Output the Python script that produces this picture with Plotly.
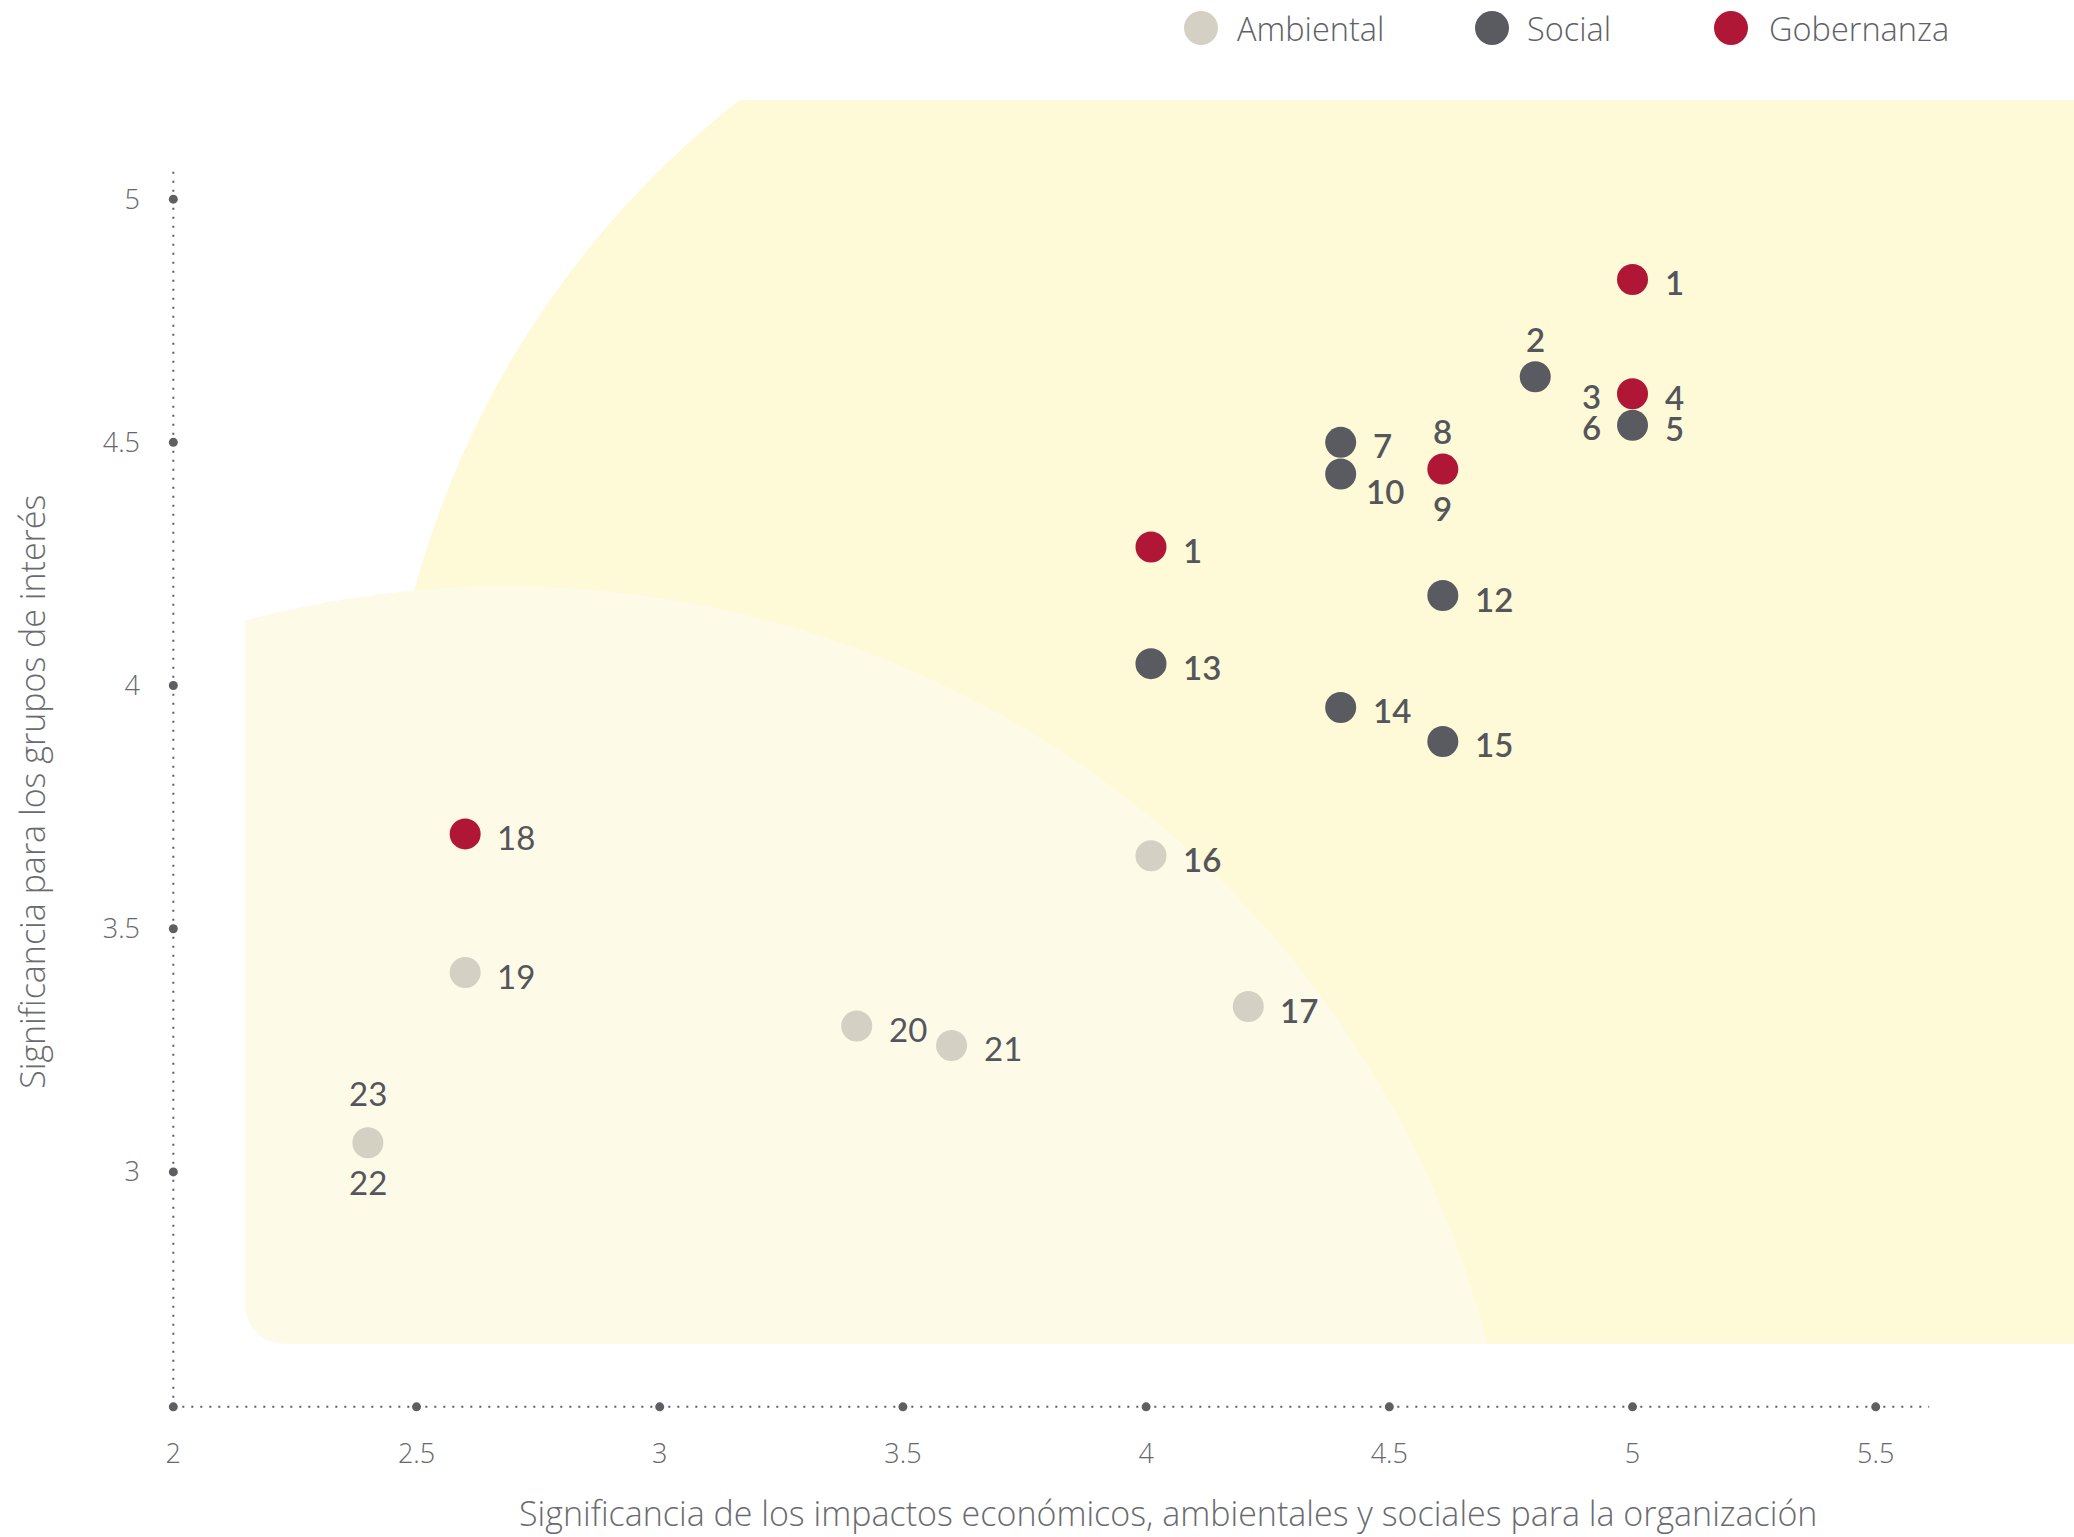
import numpy as np
import plotly.graph_objects as go

# ---------------- data ----------------
categories = ["Ambiental", "Social", "Gobernanza"]

amb_labels = ["16", "17", "19", "20", "21", "22"]
amb_x = [4.01, 4.21, 2.6, 3.405, 3.6, 2.4]
amb_y = [3.65, 3.34, 3.41, 3.30, 3.26, 3.06]

soc_labels = ["2", "5", "7", "10", "12", "13", "14", "15"]
soc_x = [4.8, 5.0, 4.4, 4.4, 4.61, 4.01, 4.4, 4.61]
soc_y = [4.635, 4.535, 4.50, 4.435, 4.185, 4.045, 3.955, 3.885]

gob_labels = ["1", "4", "8", "1", "18"]
gob_x = [5.0, 5.0, 4.61, 4.01, 2.6]
gob_y = [4.835, 4.60, 4.445, 4.285, 3.695]

# second labels written next to an already plotted point: (category, point index, text)
extra_labels = [("Gobernanza", 1, "3"), ("Social", 1, "6"),
                ("Gobernanza", 2, "9"), ("Ambiental", 5, "23")]

x_ticks = [2, 2.5, 3, 3.5, 4, 4.5, 5, 5.5]
y_ticks = [3, 3.5, 4, 4.5, 5]
x_title = "Significancia de los impactos económicos, ambientales y sociales para la organización"
y_title = "Significancia para los grupos de interés"

# ---------------- style ----------------
COLORS = {"Ambiental": "#D4D0C4", "Social": "#5A5B61", "Gobernanza": "#B01736"}
TEXT = "#54565B"
AXIS = "#5E5F63"
LABEL_FONT = "Lato"
UI_FONT = "Open Sans"
label_pos = {
    "Ambiental": ["right", "right", "right", "right", "right", "below"],
    "Social": ["above", "right", "right", "rightlow", "right", "right", "right", "right"],
    "Gobernanza": ["right", "right", "above", "right", "right"],
}
extra_pos = ["left", "left", "below", "above_far"]
OFFSETS = {"right": (30, -3, "left"), "rightlow": (23, -17, "left"),
           "above": (0, 38, "center"), "above_far": (0, 50, "center"),
           "below": (0, -39, "center"), "left": (-30, -2, "right")}

W, H = 2074, 1537
ML, MR, MT, MB = 149.0, 0.0, 100.0, 116.7
PXU_X, PXU_Y = 486.4, 486.5
X_RANGE = [1.95, 1.95 + (W - ML - MR) / PXU_X]
Y_RANGE = [2.49, 2.49 + (H - MT - MB) / PXU_Y]
AXIS_Y = 2.517          # where the horizontal axis crosses
X_AXIS_END = 5.61
Y_AXIS_END = 5.06

series = {
    "Ambiental": (amb_x, amb_y, amb_labels),
    "Social": (soc_x, soc_y, soc_labels),
    "Gobernanza": (gob_x, gob_y, gob_labels),
}

fig = go.Figure()

# ---------------- background zones ----------------
def path_from(pts):
    return "M " + " L ".join(f"{x:.5f},{y:.5f}" for x, y in pts) + " Z"

# big zone (large rounded corner)
bc = (4.345, 3.695); br = 1.916
top, bottom, right = 5.2035, 2.647, 6.5
a0 = np.arctan2(top - bc[1], -np.sqrt(br**2 - (top - bc[1])**2))
a1 = np.arctan2(bottom - bc[1], -np.sqrt(br**2 - (bottom - bc[1])**2)) + 2 * np.pi
ang = np.linspace(a0, a1, 200)
big = [(bc[0] + br * np.cos(t), bc[1] + br * np.sin(t)) for t in ang]
big += [(right, bottom), (right, top)]
fig.add_shape(type="path", path=path_from(big), xref="x", yref="y",
              fillcolor="#FEF9D6", line=dict(width=0), layer="below")

# pale zone
pc = (2.685, 2.119); pr = 2.085
left = 2.148; cr = 0.078
b0 = np.arctan2(np.sqrt(pr**2 - (left - pc[0])**2), left - pc[0])
b1 = np.arctan2(bottom - pc[1], np.sqrt(pr**2 - (bottom - pc[1])**2))
ang2 = np.linspace(b0, b1, 200)
pale = [(left, bottom + cr)]
pale += [(pc[0] + pr * np.cos(t), pc[1] + pr * np.sin(t)) for t in ang2]
corner = np.linspace(-np.pi / 2, -np.pi, 20)
pale += [(left + cr + cr * np.cos(t), bottom + cr + cr * np.sin(t)) for t in corner]
fig.add_shape(type="path", path=path_from(pale), xref="x", yref="y",
              fillcolor="#FDFAE8", line=dict(width=0), layer="below")

# ---------------- dotted axes ----------------
fig.add_shape(type="line", x0=x_ticks[0], x1=X_AXIS_END, y0=AXIS_Y, y1=AXIS_Y,
              xref="x", yref="y", line=dict(color=AXIS, width=2, dash="2px,7px"))
fig.add_shape(type="line", x0=x_ticks[0], x1=x_ticks[0], y0=AXIS_Y, y1=Y_AXIS_END,
              xref="x", yref="y", line=dict(color=AXIS, width=2, dash="2px,7px"))

fig.add_trace(go.Scatter(
    x=x_ticks + [x_ticks[0]] * len(y_ticks),
    y=[AXIS_Y] * len(x_ticks) + y_ticks,
    mode="markers", marker=dict(size=9, color=AXIS),
    cliponaxis=False, hoverinfo="skip", showlegend=False))

# ---------------- points ----------------
for cat in categories:
    xs, ys, labs = series[cat]
    fig.add_trace(go.Scatter(
        x=xs, y=ys, mode="markers", name=cat, text=labs,
        marker=dict(size=31, color=COLORS[cat], line=dict(width=0)),
        cliponaxis=False, showlegend=False))

def add_label(x, y, text, pos):
    dx, dy, xa = OFFSETS[pos]
    fig.add_annotation(x=x, y=y, xref="x", yref="y", text=text, showarrow=False,
                       xshift=dx, yshift=dy, xanchor=xa, yanchor="middle",
                       font=dict(family=LABEL_FONT, size=33, color=TEXT,
                                 weight=600 if x >= 4 else 400))

for cat in categories:
    xs, ys, labs = series[cat]
    for x, y, t, p in zip(xs, ys, labs, label_pos[cat]):
        add_label(x, y, t, p)
for (cat, i, t), p in zip(extra_labels, extra_pos):
    xs, ys, _ = series[cat]
    add_label(xs[i], ys[i], t, p)

# ---------------- legend (drawn) ----------------
PW, PH = W - ML - MR, H - MT - MB
def px_x(px):
    return (px - ML) / PW
def px_y(py):
    return (H - MB - py) / PH

leg_marker_px = [1201, 1492, 1731]
leg_text_px = [1235, 1525, 1767]
leg_y_px = 28
for cat, mx, tx in zip(categories, leg_marker_px, leg_text_px):
    fig.add_shape(type="circle", xref="paper", yref="paper",
                  xsizemode="pixel", ysizemode="pixel",
                  xanchor=px_x(mx), yanchor=px_y(leg_y_px),
                  x0=-17, x1=17, y0=-17, y1=17,
                  fillcolor=COLORS[cat], line=dict(width=0))
    fig.add_annotation(x=px_x(tx), y=px_y(leg_y_px), xref="paper", yref="paper",
                       text=cat, showarrow=False, xanchor="left", yanchor="middle",
                       font=dict(family=UI_FONT, size=32.5, color="#606166", weight=300))

# ---------------- axis titles ----------------
fig.add_annotation(x=px_x(1168), y=px_y(H), xref="paper", yref="paper",
                   text=x_title, showarrow=False, xanchor="center", yanchor="bottom",
                   borderpad=0,
                   font=dict(family=UI_FONT, size=34, color="#6A6B6F", weight=300))
fig.add_annotation(x=px_x(32), y=px_y(792), xref="paper", yref="paper",
                   text=y_title, showarrow=False, textangle=-90,
                   xanchor="center", yanchor="middle",
                   font=dict(family=UI_FONT, size=34, color="#6A6B6F", weight=300))

fig.update_layout(
    width=W, height=H,
    margin=dict(l=ML, r=MR, t=MT, b=MB, pad=0),
    paper_bgcolor="white", plot_bgcolor="white",
    showlegend=False,
    xaxis=dict(range=X_RANGE, tickvals=x_ticks, ticktext=[f"{v:g}" for v in x_ticks],
               showgrid=False, zeroline=False, showline=False, ticks="",
               ticklabelstandoff=15,
               tickfont=dict(family=UI_FONT, size=27, color="#67686C", weight=300)),
    yaxis=dict(range=Y_RANGE, tickvals=y_ticks, ticktext=[f"{v:g}" for v in y_ticks],
               showgrid=False, zeroline=False, showline=False, ticks="",
               ticklabelstandoff=8,
               tickfont=dict(family=UI_FONT, size=27, color="#67686C", weight=300)),
)

fig.write_html("out.html", config={"displayModeBar": False},
               post_script="document.body.style.margin='0';document.body.style.overflow='hidden';")
